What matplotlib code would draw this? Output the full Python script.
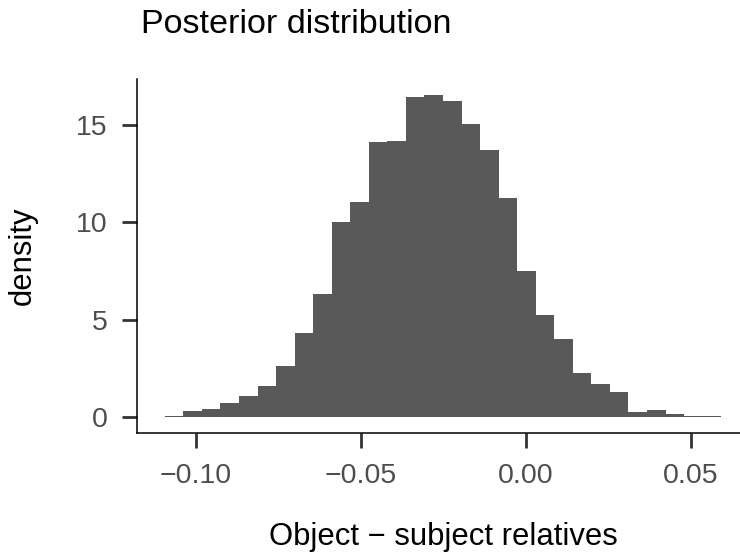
import numpy as np
import matplotlib
matplotlib.use("Agg")
import matplotlib.pyplot as plt

plt.rcParams['font.family'] = ['Liberation Sans', 'DejaVu Sans']

# Histogram of posterior draws (density scale), 30 bins
bin_start = -0.1095
bin_width = 0.005623
density = [0.07, 0.32, 0.43, 0.70, 1.06, 1.57, 2.60, 4.33, 6.33, 10.03,
           11.05, 14.13, 14.18, 16.44, 16.55, 16.24, 15.07, 13.72, 11.26, 7.51,
           5.25, 4.02, 2.27, 1.71, 1.30, 0.24, 0.37, 0.17, 0.05, 0.05]
x_ticks = [-0.10, -0.05, 0.00, 0.05]
x_tick_labels = ['\u22120.10', '\u22120.05', '0.00', '0.05']
y_ticks = [0, 5, 10, 15]

edges = bin_start + bin_width * np.arange(len(density) + 1)

fig = plt.figure(figsize=(7.4, 5.55), dpi=100)
# panel runs slightly past the right edge of the picture, like the reference
ax = fig.add_axes([137 / 740, 1 - 433 / 555, 612 / 740, (433 - 78.7) / 555])

ax.stairs(density, edges, fill=True, color='#595959', linewidth=0)

xr = edges[-1] - edges[0]
ax.set_xlim(edges[0] - 0.05 * xr, edges[-1] + 0.05 * xr)
ymax = max(density)
ax.set_ylim(-0.05 * ymax, 1.05 * ymax)

ax.set_xticks(x_ticks)
ax.set_xticklabels(x_tick_labels)
ax.set_yticks(y_ticks)

for s in ['top', 'right']:
    ax.spines[s].set_visible(False)
for s in ['left', 'bottom']:
    ax.spines[s].set_linewidth(1.1)
    ax.spines[s].set_color('black')

ax.tick_params(axis='both', length=10.5, width=2, color='#333333',
               labelsize=20.5, labelcolor='#4D4D4D')
ax.tick_params(axis='x', pad=11)
ax.tick_params(axis='y', pad=10.5)

# axis titles placed in axes coordinates
panel_h = 433 - 78.7
ax.set_xlabel('Object \u2212 subject relatives', fontsize=22.3)
ax.xaxis.label.set_va('baseline')
ax.xaxis.set_label_coords(0.5, (433 - 545) / panel_h)
ax.set_ylabel('density', fontsize=22.3)
ax.yaxis.set_label_coords((38 - 137) / 612, 0.5)

fig.text(141 / 740, 1 - 33 / 555, 'Posterior distribution', fontsize=24.6,
         ha='left', va='baseline')

fig.savefig('out.png', dpi=100)
